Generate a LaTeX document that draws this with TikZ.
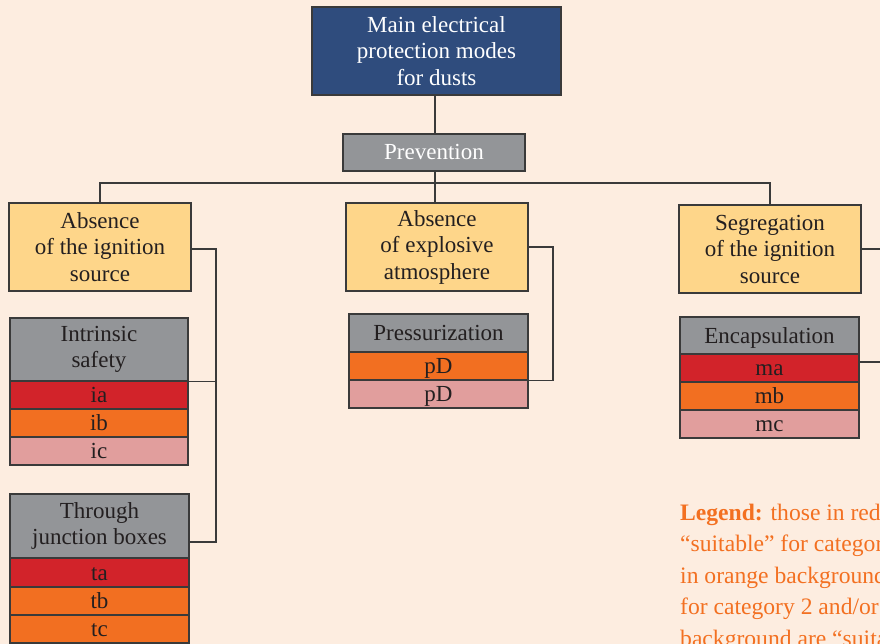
\documentclass[tikz,border=0pt]{standalone}
\usepackage{fontspec}
\setmainfont{Liberation Serif}
\definecolor{bg}{HTML}{FDEDE0}
\definecolor{navy}{HTML}{2F4C7D}
\definecolor{grayc}{HTML}{939598}
\definecolor{yell}{HTML}{FED68A}
\definecolor{redc}{HTML}{D2232A}
\definecolor{orac}{HTML}{F26F21}
\definecolor{pinkc}{HTML}{E19E9D}
\definecolor{linec}{HTML}{3A3A3A}
\definecolor{txt}{HTML}{231F20}
\definecolor{legc}{HTML}{F37021}
\begin{document}
\begin{tikzpicture}[x=1pt,y=-1pt,
  box/.style={draw=linec, line width=1.1pt, inner sep=0pt, align=center,
    font=\fontsize{23}{26.5}\selectfont, text=txt},
  cell/.style={box, text height=17pt, text depth=2pt},
  conn/.style={draw=linec, line width=1.1pt},
  legline/.style={anchor=base west, inner sep=0pt, text=legc,
    font=\fontsize{23.6}{31.5}\selectfont}]
\useasboundingbox (0,0) rectangle (880,644);
\clip (0,0) rectangle (880,644);
\fill[bg] (0,0) rectangle (880,644);

% top
\node[box, fill=navy, text=white, minimum width=249pt, minimum height=88pt] (top) at (436.5,51) {Main electrical\\protection modes\\for dusts};
\node[cell, fill=grayc, text=white, minimum width=182pt, minimum height=37pt] (prev) at (434,152.5) {Prevention};

% second level
\node[box, fill=yell, minimum width=182pt, minimum height=88pt] (lbox) at (100,247) {Absence\\of the ignition\\source};
\node[box, fill=yell, minimum width=182pt, minimum height=88pt] (cbox) at (437,247) {Absence\\of explosive\\atmosphere};
\node[box, fill=yell, minimum width=182pt, minimum height=88pt] (rbox) at (770,249) {Segregation\\of the ignition\\source};

% intrinsic safety
\node[box, fill=grayc, minimum width=178pt, minimum height=63pt] (isg) at (99,349.5) {Intrinsic\\safety};
\node[cell, fill=redc, minimum width=178pt, minimum height=28pt] (ia) at (99,395) {ia};
\node[cell, fill=orac, minimum width=178pt, minimum height=28pt] (ib) at (99,423) {ib};
\node[cell, fill=pinkc, minimum width=178pt, minimum height=28pt] (ic) at (99,451) {ic};

% through junction boxes
\node[box, fill=grayc, minimum width=179pt, minimum height=64pt] (tjb) at (99.5,526) {Through\\junction boxes};
\node[cell, fill=redc, minimum width=179pt, minimum height=29pt] (ta) at (99.5,572.5) {ta};
\node[cell, fill=orac, minimum width=179pt, minimum height=28pt] (tb) at (99.5,601) {tb};
\node[cell, fill=orac, minimum width=179pt, minimum height=28pt] (tc) at (99.5,629) {tc};

% pressurization
\node[cell, fill=grayc, minimum width=179pt, minimum height=38pt] (prs) at (438.5,333) {Pressurization};
\node[cell, fill=orac, minimum width=179pt, minimum height=28pt] (pd1) at (438.5,366) {pD};
\node[cell, fill=pinkc, minimum width=179pt, minimum height=28pt] (pd2) at (438.5,394) {pD};

% encapsulation
\node[cell, fill=grayc, minimum width=179pt, minimum height=37pt] (enc) at (769.5,335.5) {Encapsulation};
\node[cell, fill=redc, minimum width=179pt, minimum height=28pt] (ma) at (769.5,368) {ma};
\node[cell, fill=orac, minimum width=179pt, minimum height=28pt] (mb) at (769.5,396) {mb};
\node[cell, fill=pinkc, minimum width=179pt, minimum height=28pt] (mc) at (769.5,424) {mc};

% connectors
\coordinate (bus) at (435,183);
\draw[conn] (top.south -| bus) -- (prev.north -| bus);
\draw[conn] (prev.south -| bus) -- (bus) -- (bus |- cbox.north);
\draw[conn] (lbox.north) |- (bus) -| (rbox.north);

\coordinate (lc) at (216,249);
\coordinate (lj) at (216,542);
\draw[conn] (lbox.east |- lc) -- (lc) -- (lj) -- (lj -| tjb.east);
\draw[conn] (isg.south east) -- (isg.south east -| lc);

\coordinate (cc) at (553,247);
\draw[conn] (cbox.east) -- (cc) |- (pd1.south east);

\coordinate (rc) at (880,249);
\coordinate (rm) at (880,362);
\draw[conn] (rbox.east) -- (rc);
\draw[conn] (ma.east |- rm) -- (rm);

% legend
\node[legline] (leg1) at (680,520) {\textbf{Legend:} those in red background are};
\node[legline] (leg2) at (680,551.5) {“suitable” for category 1, 2 and 3;};
\node[legline] (leg3) at (680,583) {in orange background are “suitable”};
\node[legline] (leg4) at (680,614.5) {for category 2 and/or 3; those in pink};
\node[legline] (leg5) at (680,646) {background are “suitable” for category 3};
\end{tikzpicture}
\end{document}
